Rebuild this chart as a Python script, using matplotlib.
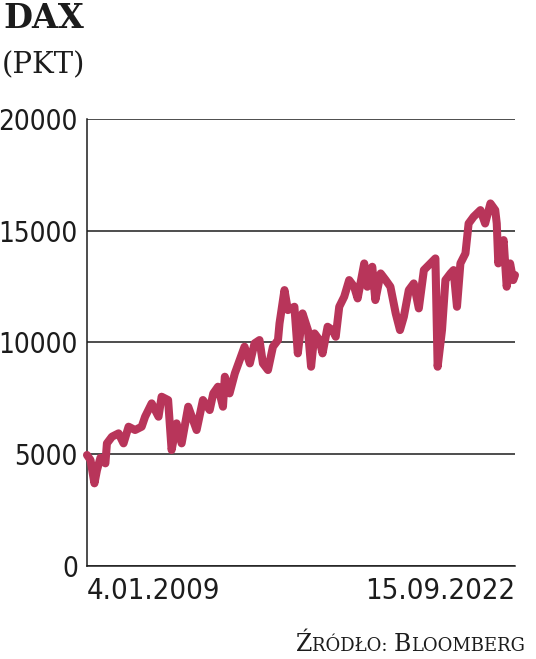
import matplotlib.pyplot as plt
import pandas as pd

# DAX, odczyt z wykresu (daty orientacyjne)
dates = [
    '2009-01-04', '2009-02-14', '2009-04-01', '2009-05-01', '2009-06-10', '2009-08-07',
    '2009-08-25', '2009-10-23', '2010-01-08', '2010-03-07', '2010-05-05', '2010-07-20',
    '2010-10-05', '2010-11-14', '2011-01-30', '2011-04-20', '2011-05-26', '2011-08-10',
    '2011-09-20', '2011-11-17', '2012-01-15', '2012-04-01', '2012-07-08', '2012-09-20',
    '2012-12-08', '2013-01-19', '2013-03-15', '2013-05-12', '2013-06-03', '2013-07-28',
    '2013-09-28', '2014-01-19', '2014-03-22', '2014-05-16', '2014-07-13', '2014-08-22',
    '2014-10-20', '2014-12-17', '2015-02-14', '2015-03-04', '2015-05-01', '2015-06-10',
    '2015-08-25', '2015-10-04', '2015-11-28', '2016-01-30', '2016-03-07', '2016-04-16',
    '2016-06-13', '2016-07-19', '2016-09-16', '2016-11-13', '2016-12-20', '2017-01-30',
    '2017-03-29', '2017-05-26', '2017-07-23', '2017-09-02', '2017-11-18', '2017-12-24',
    '2018-02-20', '2018-03-28', '2018-05-29', '2018-07-27', '2018-09-20', '2018-11-21',
    '2019-01-10', '2019-02-24', '2019-04-23', '2019-06-20', '2019-08-18', '2019-10-16',
    '2020-01-01', '2020-02-28', '2020-03-25', '2020-05-15', '2020-06-24', '2020-08-22',
    '2020-09-27', '2020-11-06', '2020-12-16', '2021-02-13', '2021-03-22', '2021-05-19',
    '2021-08-07', '2021-10-01', '2021-12-02', '2022-01-27', '2022-02-14', '2022-03-04',
    '2022-05-05', '2022-06-10', '2022-07-20', '2022-08-25', '2022-09-15',
]
values = [
    4955, 4731, 3687, 4284, 4830, 4582,
    5477, 5776, 5925, 5477, 6223, 6074,
    6223, 6671, 7268, 6671, 7566, 7417,
    5179, 6372, 5477, 7118, 6074, 7417,
    6969, 7715, 8014, 7118, 8461, 7715,
    8610, 9804, 9058, 9953, 10102, 9058,
    8760, 9804, 10102, 10848, 12340, 11445,
    11594, 9506, 11296, 10550, 8909, 10401,
    10102, 9506, 10699, 10550, 10252, 11594,
    12042, 12788, 12490, 11967, 13534, 12490,
    13385, 11893, 13086, 12788, 12490, 11296,
    10550, 11147, 12340, 12639, 11520, 13236,
    13534, 13758, 8909, 10550, 12788, 13086,
    13236, 11594, 13534, 13982, 15322, 15623,
    15921, 15322, 16220, 15921, 15322, 13534,
    14578, 12490, 13534, 12788, 13012,
]
y_ticks = [0, 5000, 10000, 15000, 20000]
x_labels = ['4.01.2009', '15.09.2022']
title = 'DAX'
unit = '(PKT)'
source = [('Ź', 17), ('RÓDŁO: ', 13), ('B', 17), ('LOOMBERG', 13)]

LINE = '#b8355a'
INK = '#1c1c1c'

fig = plt.figure(figsize=(5.36, 6.59), dpi=100)
ax = fig.add_axes([0.1623, 0.1416, 0.7985, 0.6778])

x = pd.to_datetime(dates)
ax.plot(x, values, color=LINE, lw=5.8, solid_joinstyle='round',
        solid_capstyle='round', clip_on=False, zorder=3)

ax.set_ylim(0, 20000)
ax.set_xlim(x[0], x[-1])
ax.set_yticks(y_ticks)
ax.set_yticklabels([str(v) for v in y_ticks])
ax.yaxis.grid(True, color=INK, lw=1.1)
ax.set_axisbelow(True)
for side in ['top', 'right']:
    ax.spines[side].set_visible(False)
for side in ['left', 'bottom']:
    ax.spines[side].set_color(INK)
    ax.spines[side].set_linewidth(1.1)

ax.tick_params(axis='y', length=0, pad=6.5, labelsize=20, labelcolor=INK)
for lab in ax.get_yticklabels():
    lab.set_fontstretch('condensed')
    lab.set_fontweight('light')

ax.set_xticks([x[0], x[-1]])
ax.set_xticklabels(x_labels)
ax.tick_params(axis='x', length=0, pad=8, labelsize=21, labelcolor=INK)
xl = ax.get_xticklabels()
xl[0].set_ha('left')
xl[1].set_ha('right')
for lab in xl:
    lab.set_fontstretch('condensed')
    lab.set_fontweight('medium')

fig.text(0.006, 0.958, title, family='DejaVu Serif', weight='bold',
         size=24, color=INK)
fig.text(0.004, 0.888, unit, family='DejaVu Serif', size=21, color=INK)

# źródło w kapitalikach: każdy kawałek dosunięty do poprzedniego
prev = fig.text(0.552, 0.012, source[0][0], family='DejaVu Serif',
                size=source[0][1], color=INK, va='baseline')
for txt, sz in source[1:]:
    prev = ax.annotate(txt, xy=(1, 0.012), xycoords=(prev, 'figure fraction'),
                       family='DejaVu Serif', size=sz, color=INK,
                       va='baseline', ha='left', annotation_clip=False)

fig.savefig('out.png', dpi=100)
